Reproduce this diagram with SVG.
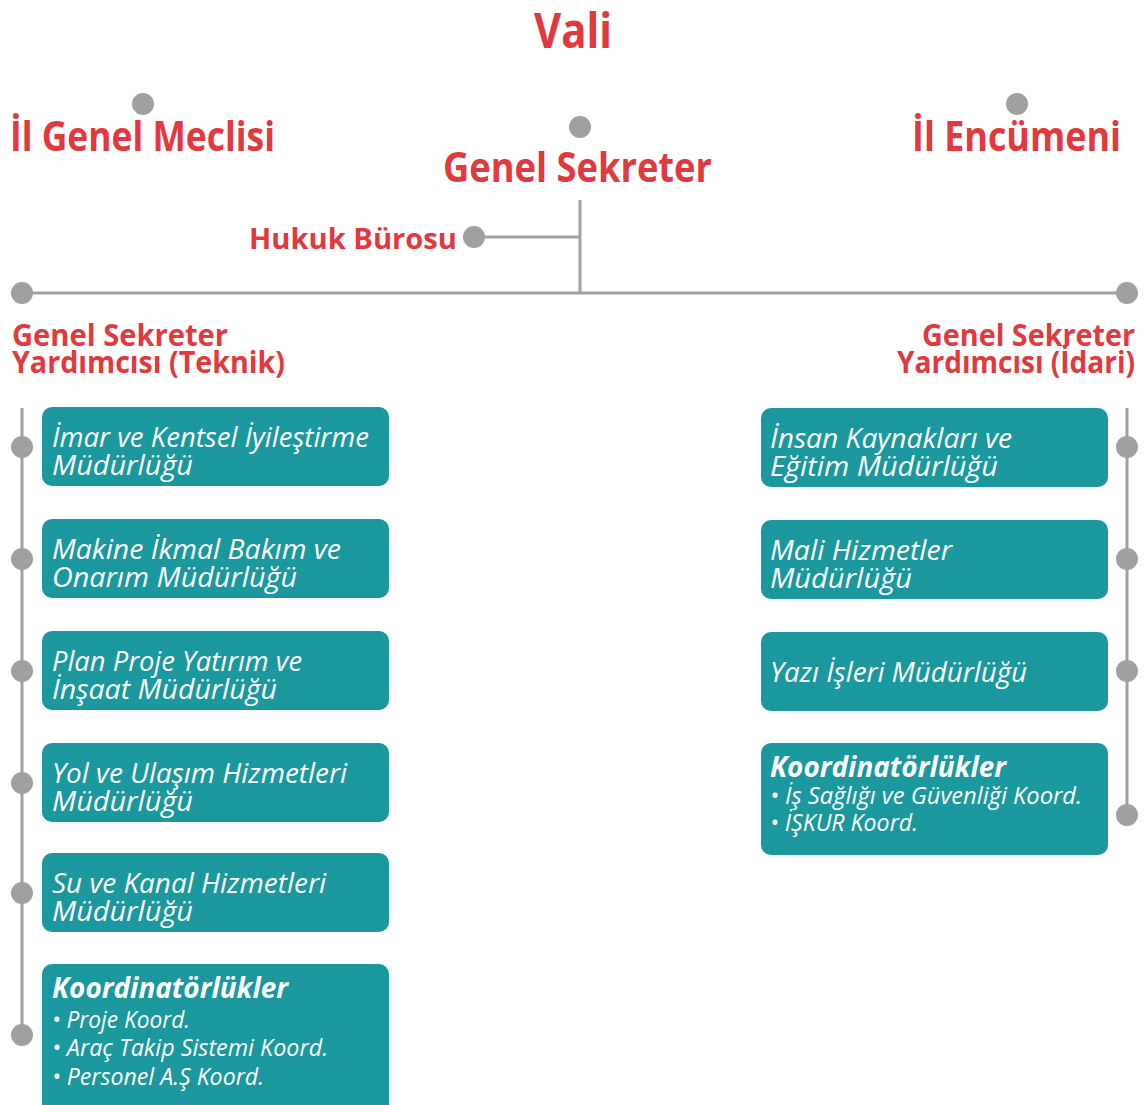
<svg xmlns="http://www.w3.org/2000/svg" width="1144" height="1105" viewBox="0 0 1144 1105">
<style>
.t{font-family:"Open Sans","Liberation Sans",sans-serif;font-weight:bold;fill:#e0393e}
.b{font-family:"Open Sans","Liberation Sans",sans-serif;font-style:italic;fill:#ffffff;font-size:28px}
.bh{font-family:"Open Sans","Liberation Sans",sans-serif;font-style:italic;font-weight:bold;fill:#ffffff;font-size:29px}
.bi{font-family:"Open Sans","Liberation Sans",sans-serif;font-style:italic;fill:#ffffff;font-size:24px}
.box{fill:#1b989e}
.dot{fill:#a0a0a0}
.ln{stroke:#a0a0a0;stroke-width:3;fill:none}
</style>
<rect width="1144" height="1105" fill="#ffffff"/>
<g id="connectors">
<line class="ln" x1="580" y1="200" x2="580" y2="293"/>
<line class="ln" x1="475" y1="237" x2="580" y2="237"/>
<line class="ln" x1="22" y1="293" x2="1127" y2="293"/>
<line class="ln" x1="22" y1="408" x2="22" y2="1035"/>
<line class="ln" x1="1127" y1="408" x2="1127" y2="815"/>
<circle class="dot" cx="22" cy="293" r="11"/>
<circle class="dot" cx="1127" cy="293" r="11"/>
<circle class="dot" cx="22" cy="447" r="11"/>
<circle class="dot" cx="22" cy="559" r="11"/>
<circle class="dot" cx="22" cy="671" r="11"/>
<circle class="dot" cx="22" cy="783" r="11"/>
<circle class="dot" cx="22" cy="893" r="11"/>
<circle class="dot" cx="22" cy="1035" r="11"/>
<circle class="dot" cx="1127" cy="447" r="11"/>
<circle class="dot" cx="1127" cy="559" r="11"/>
<circle class="dot" cx="1127" cy="671" r="11"/>
<circle class="dot" cx="1127" cy="815" r="11"/>
</g>
<g id="vali"><text class="t" x="534" y="48" font-size="48" textLength="78" lengthAdjust="spacingAndGlyphs">Vali</text></g>
<g id="il-genel-meclisi"><circle class="dot" cx="143" cy="104" r="11"/><text class="t" x="10" y="151" font-size="42" textLength="265" lengthAdjust="spacingAndGlyphs">İl Genel Meclisi</text></g>
<g id="il-encumeni"><circle class="dot" cx="1017" cy="104" r="11"/><text class="t" x="912" y="151" font-size="42" textLength="209" lengthAdjust="spacingAndGlyphs">İl Encümeni</text></g>
<g id="genel-sekreter"><circle class="dot" cx="580" cy="127" r="11"/><text class="t" x="443" y="182" font-size="42" textLength="269" lengthAdjust="spacingAndGlyphs">Genel Sekreter</text></g>
<g id="hukuk-burosu"><circle class="dot" cx="474" cy="237" r="11"/><text class="t" x="249" y="249" font-size="28" textLength="208" lengthAdjust="spacingAndGlyphs">Hukuk Bürosu</text></g>
<g id="gsy-teknik">
<text class="t" x="12" y="346" font-size="31" textLength="216" lengthAdjust="spacingAndGlyphs">Genel Sekreter</text>
<text class="t" x="12" y="373" font-size="31" textLength="273" lengthAdjust="spacingAndGlyphs">Yardımcısı (Teknik)</text>
</g>
<g id="gsy-idari">
<text class="t" x="922" y="346" font-size="31" textLength="213" lengthAdjust="spacingAndGlyphs">Genel Sekreter</text>
<text class="t" x="897" y="373" font-size="31" textLength="238" lengthAdjust="spacingAndGlyphs">Yardımcısı (İdari)</text>
</g>
<g id="imar">
<rect class="box" x="42" y="407" width="347" height="79" rx="10"/>
<text class="b" x="52" y="447" textLength="317" lengthAdjust="spacingAndGlyphs">İmar ve Kentsel İyileştirme</text>
<text class="b" x="52" y="475" textLength="141" lengthAdjust="spacingAndGlyphs">Müdürlüğü</text>
</g>
<g id="makine">
<rect class="box" x="42" y="519" width="347" height="79" rx="10"/>
<text class="b" x="52" y="559" textLength="289" lengthAdjust="spacingAndGlyphs">Makine İkmal Bakım ve</text>
<text class="b" x="52" y="587" textLength="245" lengthAdjust="spacingAndGlyphs">Onarım Müdürlüğü</text>
</g>
<g id="plan-proje">
<rect class="box" x="42" y="631" width="347" height="79" rx="10"/>
<text class="b" x="52" y="671" textLength="250" lengthAdjust="spacingAndGlyphs">Plan Proje Yatırım ve</text>
<text class="b" x="52" y="699" textLength="225" lengthAdjust="spacingAndGlyphs">İnşaat Müdürlüğü</text>
</g>
<g id="yol-ulasim">
<rect class="box" x="42" y="743" width="347" height="79" rx="10"/>
<text class="b" x="52" y="783" textLength="295" lengthAdjust="spacingAndGlyphs">Yol ve Ulaşım Hizmetleri</text>
<text class="b" x="52" y="811" textLength="141" lengthAdjust="spacingAndGlyphs">Müdürlüğü</text>
</g>
<g id="su-kanal">
<rect class="box" x="42" y="853" width="347" height="79" rx="10"/>
<text class="b" x="52" y="893" textLength="274" lengthAdjust="spacingAndGlyphs">Su ve Kanal Hizmetleri</text>
<text class="b" x="52" y="921" textLength="141" lengthAdjust="spacingAndGlyphs">Müdürlüğü</text>
</g>
<g id="koord-teknik">
<rect class="box" x="42" y="964" width="347" height="150" rx="10"/>
<text class="bh" x="52" y="998" textLength="236" lengthAdjust="spacingAndGlyphs">Koordinatörlükler</text>
<text class="bi" x="52" y="1028" textLength="138" lengthAdjust="spacingAndGlyphs">• Proje Koord.</text>
<text class="bi" x="52" y="1056" textLength="276" lengthAdjust="spacingAndGlyphs">• Araç Takip Sistemi Koord.</text>
<text class="bi" x="52" y="1085" textLength="212" lengthAdjust="spacingAndGlyphs">• Personel A.Ş Koord.</text>
</g>
<g id="insan-kaynaklari">
<rect class="box" x="761" y="408" width="347" height="79" rx="10"/>
<text class="b" x="770" y="448" textLength="242" lengthAdjust="spacingAndGlyphs">İnsan Kaynakları ve</text>
<text class="b" x="770" y="476" textLength="228" lengthAdjust="spacingAndGlyphs">Eğitim Müdürlüğü</text>
</g>
<g id="mali-hizmetler">
<rect class="box" x="761" y="520" width="347" height="79" rx="10"/>
<text class="b" x="770" y="560" textLength="182" lengthAdjust="spacingAndGlyphs">Mali Hizmetler</text>
<text class="b" x="770" y="588" textLength="142" lengthAdjust="spacingAndGlyphs">Müdürlüğü</text>
</g>
<g id="yazi-isleri">
<rect class="box" x="761" y="632" width="347" height="79" rx="10"/>
<text class="b" x="770" y="682" textLength="257" lengthAdjust="spacingAndGlyphs">Yazı İşleri Müdürlüğü</text>
</g>
<g id="koord-idari">
<rect class="box" x="761" y="743" width="347" height="112" rx="10"/>
<text class="bh" x="770" y="777" textLength="236" lengthAdjust="spacingAndGlyphs">Koordinatörlükler</text>
<text class="bi" x="770" y="804" textLength="312" lengthAdjust="spacingAndGlyphs">• İş Sağlığı ve Güvenliği Koord.</text>
<text class="bi" x="770" y="831" textLength="148" lengthAdjust="spacingAndGlyphs">• İŞKUR Koord.</text>
</g>
</svg>
